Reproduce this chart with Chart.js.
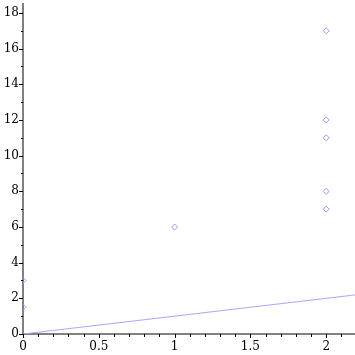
<!DOCTYPE html>
<html>
<head>
<meta charset="utf-8">
<script src="https://cdn.jsdelivr.net/npm/chart.js@4/dist/chart.umd.min.js"></script>
<style>
  html, body { margin: 0; padding: 0; background: #fff; }
  #wrap { width: 355px; height: 355px; position: relative; }
</style>
</head>
<body>
<div id="wrap"><canvas id="c"></canvas></div>
<script>
// --- DATA ---
const pointX = [0, 0, 1, 2, 2, 2, 2, 2];
const pointY = [3, 1.5, 6, 17, 12, 11, 8, 7];
const lineX = [0, 2.19];
const lineY = [0, 2.19];
const xLabels = [0, 0.5, 1, 1.5, 2];
const yLabels = [0, 2, 4, 6, 8, 10, 12, 14, 16, 18];

const axisColor = '#808080';
const serif = "'DejaVu Serif', serif";

// tick marks: major longer, minor short
const tickMarks = {
  id: 'tickMarks',
  afterDraw(chart) {
    const ctx = chart.ctx, xs = chart.scales.x, ys = chart.scales.y;
    ctx.save();
    ctx.strokeStyle = '#000';
    ctx.lineWidth = 1;
    xs.ticks.forEach(t => {
      const px = Math.round(xs.getPixelForValue(t.value)) + 0.5;
      const major = xLabels.some(v => Math.abs(v - t.value) < 1e-6);
      ctx.beginPath();
      ctx.moveTo(px, xs.top);
      ctx.lineTo(px, xs.top + (major ? 4 : 3));
      ctx.stroke();
    });
    ys.ticks.forEach(t => {
      const py = Math.round(ys.getPixelForValue(t.value)) + 0.5;
      const major = yLabels.includes(t.value);
      ctx.beginPath();
      ctx.moveTo(ys.right, py);
      ctx.lineTo(ys.right - (major ? 4 : 2), py);
      ctx.stroke();
    });
    ctx.restore();
  }
};

function noPad(s) {
  s.paddingTop = 0; s.paddingBottom = 0; s.paddingLeft = 0; s.paddingRight = 0;
}

new Chart(document.getElementById('c'), {
  type: 'scatter',
  data: {
    datasets: [
      {
        data: pointX.map((x, i) => ({ x, y: pointY[i] })),
        pointStyle: 'rectRot',
        pointRadius: 3,
        pointBorderWidth: 1,
        borderColor: '#9a9aff',
        backgroundColor: 'rgba(0,0,0,0)',
        clip: 0
      },
      {
        type: 'line',
        data: lineX.map((x, i) => ({ x, y: lineY[i] })),
        borderColor: '#a8a8ff',
        borderWidth: 1,
        pointRadius: 0,
        fill: false,
        clip: 0
      }
    ]
  },
  options: {
    responsive: true,
    maintainAspectRatio: false,
    animation: false,
    layout: { autoPadding: false, padding: { top: 4, right: 0, left: 0, bottom: 0 } },
    plugins: { legend: { display: false }, tooltip: { enabled: false } },
    scales: {
      x: {
        type: 'linear',
        min: 0, max: 2.19,
        z: 1,
        afterFit: s => { s.height = 21; noPad(s); },
        grid: { drawOnChartArea: false, drawTicks: false },
        border: { color: axisColor, width: 2 },
        ticks: {
          stepSize: 0.1,
          includeBounds: false,
          autoSkip: false,
          maxRotation: 0,
          padding: 6,
          color: '#000',
          font: { family: serif, size: 12 },
          callback: v => {
            const m = xLabels.find(l => Math.abs(l - v) < 1e-6);
            return m === undefined ? '' : String(m);
          }
        }
      },
      y: {
        type: 'linear',
        min: 0, max: 18.5,
        z: 1,
        afterFit: s => { s.width = 23; noPad(s); },
        grid: { drawOnChartArea: false, drawTicks: false },
        border: { color: axisColor, width: 2 },
        ticks: {
          stepSize: 1,
          includeBounds: false,
          autoSkip: false,
          padding: 4,
          color: '#000',
          font: { family: serif, size: 12 },
          callback: v => yLabels.includes(v) ? String(v) : ''
        }
      }
    }
  },
  plugins: [tickMarks]
});
</script>
</body>
</html>
